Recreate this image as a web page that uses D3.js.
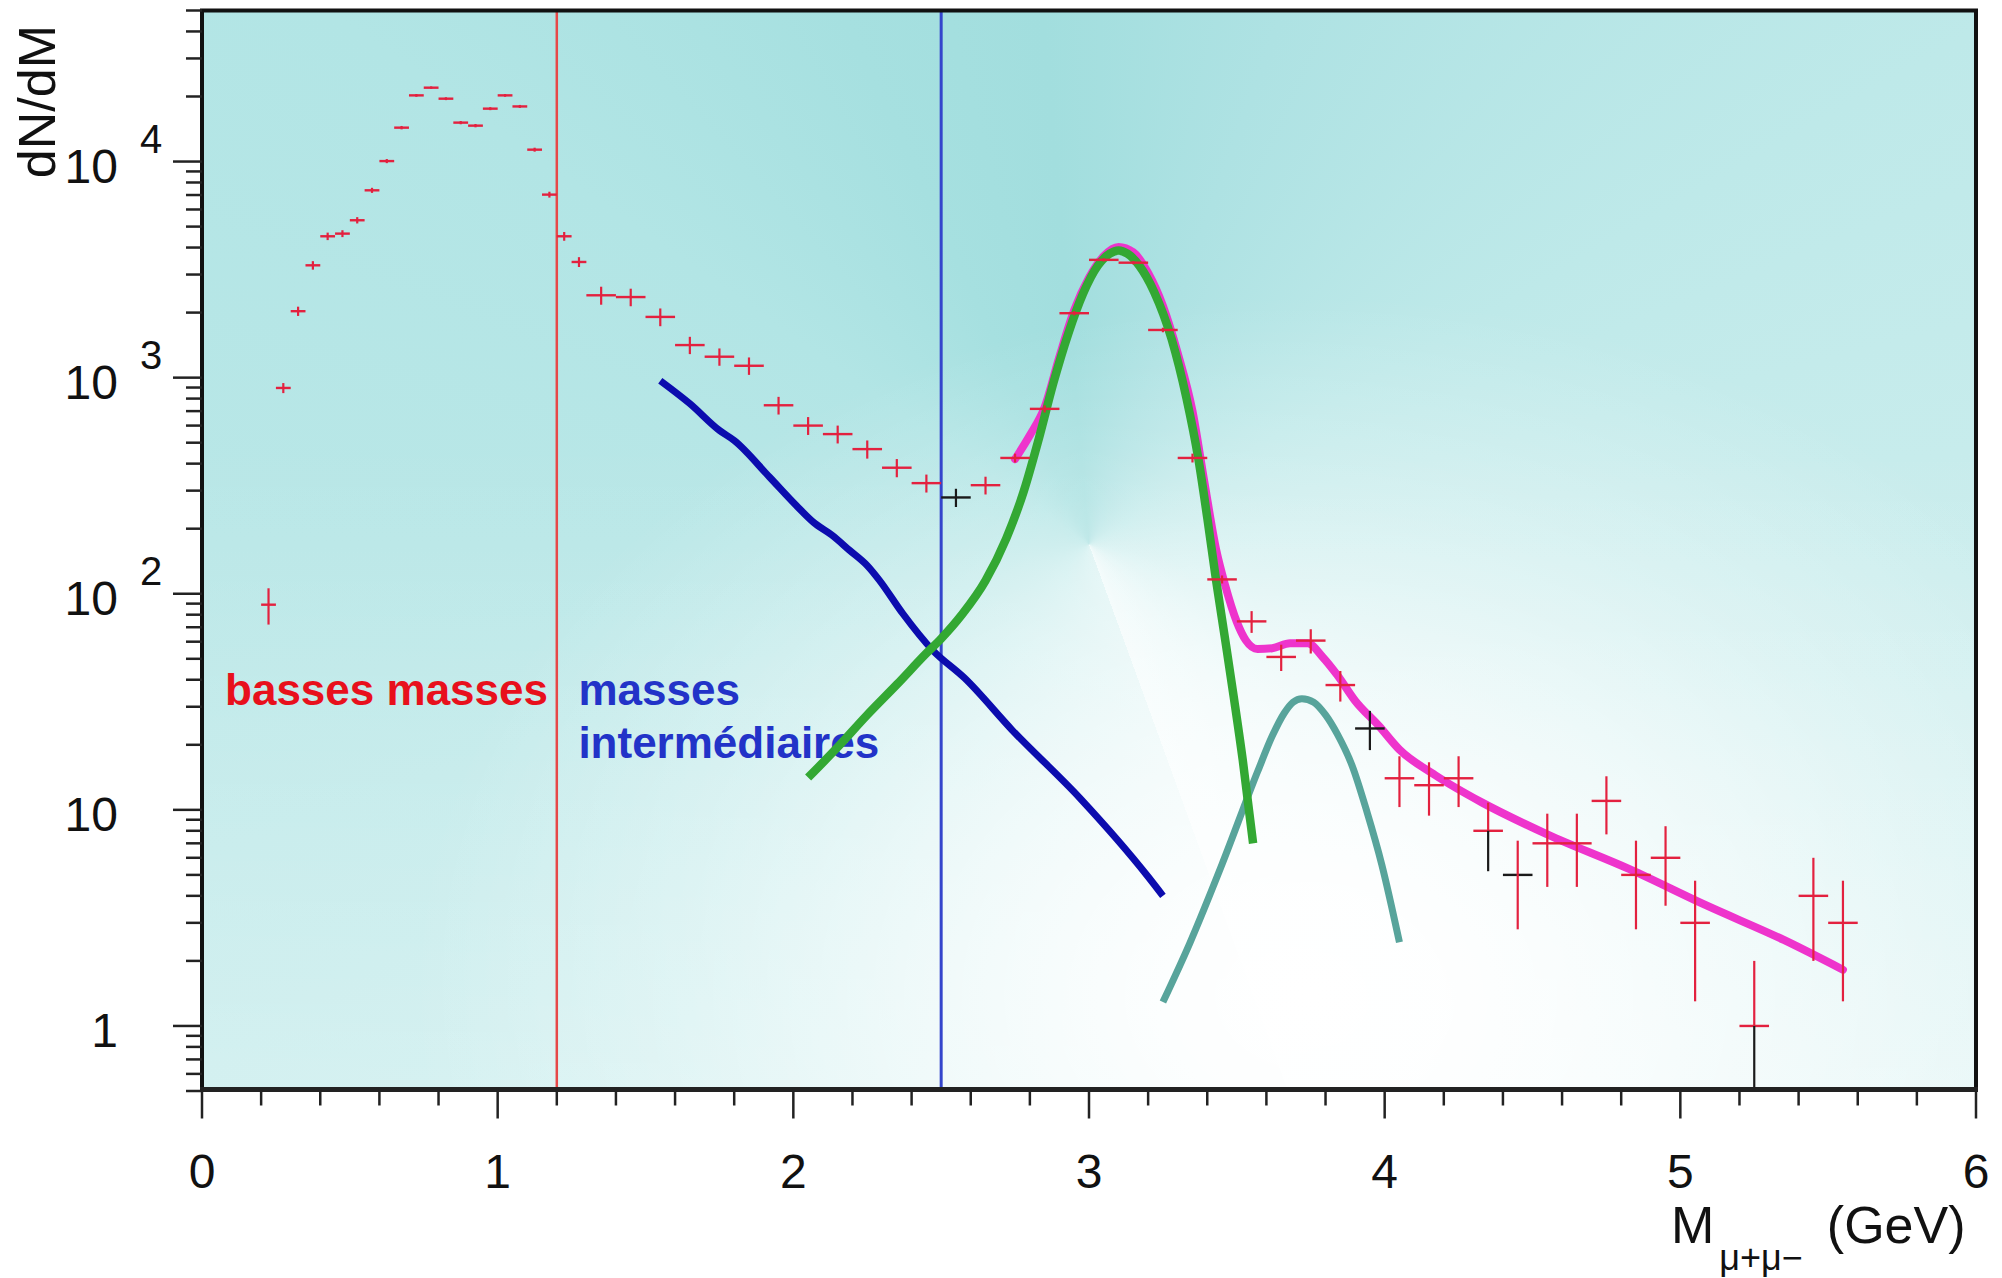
<!DOCTYPE html>
<html>
<head>
<meta charset="utf-8">
<script src="https://cdn.jsdelivr.net/npm/d3@7"></script>
<style>
  html, body { margin: 0; padding: 0; background: #fff; }
  #chart { position: relative; width: 2002px; height: 1278px; overflow: hidden; }
  #chart svg { position: absolute; left: 0; top: 0; }
  #plotbg { position: absolute; }
  text { font-family: "Liberation Sans", Arial, Helvetica, sans-serif; }
</style>
</head>
<body>
<div id="chart"></div>
<script>
// Dimuon invariant-mass spectrum dN/dM with the fitted components.

// Low-mass bins (0.05 GeV wide)
const lowMassCentres = [0.225, 0.275, 0.325, 0.375, 0.425, 0.475, 0.525, 0.575, 0.625, 0.675, 0.725,
                        0.775, 0.825, 0.875, 0.925, 0.975, 1.025, 1.075, 1.125, 1.175, 1.225, 1.275];
const lowMassYield   = [89, 896, 2030, 3310, 4510, 4640, 5350, 7360, 10050, 14350, 20240,
                        21970, 19540, 15140, 14660, 17570, 20240, 17990, 11350, 7030, 4510, 3430];
const lowMassError   = [17, 48, 100, 150, 180, 170, 180, 200, 220, 260, 300,
                        300, 300, 260, 260, 280, 300, 290, 240, 220, 210, 180];

// Wider bins (0.1 GeV wide)
const wideCentres = [1.35, 1.45, 1.55, 1.65, 1.75, 1.85, 1.95, 2.05, 2.15, 2.25, 2.35, 2.45, 2.55, 2.65,
                     2.75, 2.85, 2.95, 3.05, 3.15, 3.25, 3.35, 3.45, 3.55, 3.65, 3.75, 3.85, 3.95,
                     4.05, 4.15, 4.25, 4.35, 4.45, 4.55, 4.65, 4.75, 4.85, 4.95, 5.05, 5.25, 5.45, 5.55];
const wideYield   = [2405, 2360, 1910, 1415, 1250, 1135, 745, 600, 548, 467, 383, 325, 279, 318,
                     425, 717, 1987, 3508, 3404, 1662, 425, 116.5, 74.5, 51, 60.7, 37.8, 23.8,
                     14, 13, 14, 8, 5, 7, 7, 11, 5, 6, 3, 1, 4, 3];
const wideError   = [230, 220, 180, 130, 115, 105, 70, 57, 52, 45, 37, 31, 27, 30,
                     20, 27, 45, 60, 60, 40, 20, 5, 8.6, 7.1, 7.8, 6.1, 4.9,
                     3.7, 3.6, 3.7, 2.8, 2.2, 2.6, 2.6, 3.3, 2.2, 2.4, 1.7, 1, 2, 1.7];

// Points (or parts of them) printed in black ink
const darkInk = new Map([[2.55, "all"], [3.95, "all"], [4.35, "low"], [4.45, "h"], [5.25, "low"]]);

// Intermediate-mass continuum (blue)
const contMass  = [1.55, 1.65, 1.75, 1.80, 1.92, 2.01, 2.07, 2.13, 2.19, 2.25, 2.29, 2.37, 2.47, 2.58, 2.74, 2.97, 3.20, 3.25];
const contYield = [968, 758, 570, 512, 346, 256, 213, 187, 159, 135, 116, 81, 55, 40.6, 23.4, 11.3, 4.9, 4.0];

// J/psi peak (green)
const jpsiMass  = [2.05, 2.15, 2.25, 2.35, 2.45, 2.50, 2.57, 2.65, 2.72, 2.78, 2.83, 2.88, 2.93, 2.98, 3.03,
                   3.07, 3.10, 3.13, 3.17, 3.22, 3.28, 3.33, 3.37, 3.40, 3.43, 3.46, 3.49, 3.52, 3.555];
const jpsiYield = [14.1, 19.5, 27.5, 38, 53, 62, 80, 115, 180, 300, 520, 950, 1600, 2450, 3300,
                   3750, 3880, 3750, 3300, 2500, 1500, 800, 420, 225, 115, 62, 33, 17, 7.0];

// psi' peak (teal)
const psiPMass  = [3.25, 3.34, 3.45, 3.57, 3.62, 3.66, 3.69, 3.72, 3.76, 3.80, 3.84, 3.89, 3.94, 3.99, 4.05];
const psiPYield = [1.29, 2.4, 5.6, 15, 22, 28, 31.5, 32.7, 31.5, 27.5, 22.4, 16, 9.8, 5.6, 2.44];

// Total fit (magenta)
const fitMass  = [2.75, 2.80, 2.85, 2.90, 2.95, 3.00, 3.05, 3.10, 3.15, 3.20, 3.25, 3.30, 3.35, 3.39, 3.43,
                  3.46, 3.50, 3.53, 3.57, 3.62, 3.68, 3.74, 3.79, 3.84, 3.90, 3.98, 4.05, 4.17, 4.33,
                  4.55, 4.83, 5.09, 5.35, 5.55];
const fitYield = [420, 541, 730, 1250, 2050, 2900, 3650, 4020, 3800, 3050, 2150, 1300, 700, 330, 160,
                  110, 74, 61, 55.5, 56, 59, 59, 51, 42, 32, 24.5, 19, 14.5, 10.8,
                  7.7, 5.3, 3.6, 2.5, 1.82];

// Axis ticks
const xMajorTicks = [0, 1, 2, 3, 4, 5, 6];
const yDecades = [1, 10, 100, 1000, 10000];
const yExponents = ["", "", "2", "3", "4"];
const yBaseLabels = ["1", "10", "10", "10", "10"];

// Region boundaries (GeV) and their labels
const regionLimits = [1.2, 2.5];
const lowRegionLabel = "basses masses";
const midRegionLabel = ["masses", "intermédiaires"];

const W = 2002, H = 1278;
const x = d3.scaleLinear().domain([0, 6]).range([202, 1976]);
const y = d3.scaleLog().domain([0.5, 5e4]).range([1091, 10.5]);
const [x0, x1] = x.range();
const yTop = 10.5, yBot = 1089.5;

// ---- shaded plot background ----
const pw = x1 - x0, ph = yBot - yTop;
const cx = x(3.0) - x0, cy = y(170) - yTop;          // centre of the angular shading
const wx = x(3.75) - x0, wy = y(1.4) - yTop;          // brightest spot
d3.select("#chart").append("div").attr("id", "plotbg")
  .style("left", x0 + "px").style("top", yTop + "px")
  .style("width", pw + "px").style("height", ph + "px")
  .style("background", [
    `radial-gradient(ellipse 900px 700px at ${wx}px ${wy}px, rgba(255,255,255,1) 0%, rgba(255,255,255,0.93) 15%, rgba(255,255,255,0.64) 40%, rgba(255,255,255,0.28) 70%, rgba(255,255,255,0) 100%)`,
    `linear-gradient(to bottom, rgba(255,255,255,0) 0%, rgba(255,255,255,0) 40%, rgba(255,255,255,0.3) 100%)`,
    `conic-gradient(from 160deg at ${cx}px ${cy}px, #d6f1f1 0deg, #c6ecec 60deg, #b9e7e7 110deg, #b2e5e5 145deg, #a6e0e0 175deg, #a2dede 195deg, #aee2e3 220deg, #bee9e9 260deg, #cdeeee 300deg, #e4f6f6 340deg, #eefafa 360deg)`
  ].join(","));

const svg = d3.select("#chart").append("svg").attr("width", W).attr("height", H);

// ---- region separators ----
const sepColours = ["#e64848", "#3445cc"];
svg.append("g").selectAll("line").data(regionLimits).join("line")
  .attr("x1", d => x(d)).attr("x2", d => x(d))
  .attr("y1", yTop).attr("y2", yBot + 2)
  .attr("stroke", (d, i) => sepColours[i]).attr("stroke-width", (d, i) => i ? 3 : 2.5);

// ---- region labels ----
const labels = svg.append("g").attr("font-weight", "bold").attr("font-size", 44);
labels.append("text").attr("x", x(0.078)).attr("y", y(30.5)).attr("fill", "#e8101c").text(lowRegionLabel);
labels.append("text").attr("x", x(1.273)).attr("y", y(30.5)).attr("fill", "#2233c8")
  .selectAll("tspan").data(midRegionLabel).join("tspan")
  .attr("x", x(1.273)).attr("dy", (d, i) => i ? 53 : 0).text(d => d);

// ---- curves ----
const line = d3.line().x(d => x(d[0])).y(d => y(d[1])).curve(d3.curveMonotoneX);
const curves = [
  { m: fitMass, v: fitYield, colour: "#ee34cc", width: 8, cap: "round" },
  { m: contMass, v: contYield, colour: "#0c0cae", width: 7, cap: "butt" },
  { m: psiPMass, v: psiPYield, colour: "#58a49b", width: 7, cap: "butt" },
  { m: jpsiMass, v: jpsiYield, colour: "#33a833", width: 8.5, cap: "butt" }
];
svg.append("g").attr("fill", "none").selectAll("path").data(curves).join("path")
  .attr("d", c => line(c.m.map((m, i) => [m, c.v[i]])))
  .attr("stroke", c => c.colour).attr("stroke-width", c => c.width)
  .attr("stroke-linecap", c => c.cap).attr("stroke-linejoin", "round");

// ---- data points with error bars ----
const points = [
  ...lowMassCentres.map((m, i) => ({ m, v: lowMassYield[i], e: lowMassError[i], hw: 0.025 })),
  ...wideCentres.map((m, i) => ({ m, v: wideYield[i], e: wideError[i], hw: 0.05 }))
];
const red = "#e3213f", ink = "#1a1a1a";
const yMin = y.domain()[0];
const pg = svg.append("g").selectAll("g").data(points).join("g");
pg.append("line")
  .attr("x1", d => x(d.m - d.hw)).attr("x2", d => x(d.m + d.hw))
  .attr("y1", d => y(d.v)).attr("y2", d => y(d.v))
  .attr("stroke", d => ["all", "h"].includes(darkInk.get(d.m)) ? ink : red).attr("stroke-width", 2.4);
pg.append("line")
  .attr("x1", d => x(d.m)).attr("x2", d => x(d.m))
  .attr("y1", d => y(d.v)).attr("y2", d => y(d.v + d.e))
  .attr("stroke", d => darkInk.get(d.m) === "all" ? ink : red).attr("stroke-width", 2.2);
pg.append("line")
  .attr("x1", d => x(d.m)).attr("x2", d => x(d.m))
  .attr("y1", d => y(d.v)).attr("y2", d => y(Math.max(d.v - d.e, yMin)))
  .attr("stroke", d => ["all", "low"].includes(darkInk.get(d.m)) ? ink : red).attr("stroke-width", 2.2);

// ---- frame ----
svg.append("rect").attr("x", x0).attr("y", yTop).attr("width", pw).attr("height", ph)
  .attr("fill", "none").attr("stroke", "#111").attr("stroke-width", 4);
svg.append("line").attr("x1", x0 - 2).attr("x2", x1 + 2).attr("y1", yBot).attr("y2", yBot)
  .attr("stroke", "#222").attr("stroke-width", 5);

// ---- x axis ----
const xMinor = d3.range(0, 30.5, 1).map(i => i / 5).filter(t => !xMajorTicks.includes(t));
const axisG = svg.append("g").attr("stroke", "#222").attr("stroke-width", 2.5);
axisG.selectAll(".xmin").data(xMinor).join("line")
  .attr("x1", d => x(d)).attr("x2", d => x(d)).attr("y1", yBot).attr("y2", yBot + 16);
axisG.selectAll(".xmaj").data(xMajorTicks).join("line")
  .attr("x1", d => x(d)).attr("x2", d => x(d)).attr("y1", yBot).attr("y2", yBot + 29);
svg.append("g").attr("font-size", 48).attr("text-anchor", "middle").attr("fill", "#111")
  .selectAll("text").data(xMajorTicks).join("text")
  .attr("x", d => x(d)).attr("y", 1188).text(d => d);

// x title: M_{mu+mu-} (GeV)
const xt = svg.append("text").attr("fill", "#111").attr("font-size", 52).attr("x", 1671).attr("y", 1243);
xt.append("tspan").text("M");
xt.append("tspan").attr("font-size", 36).attr("dx", 5).attr("dy", 27).text("\u03bc+\u03bc\u2212");
xt.append("tspan").attr("dx", 24).attr("dy", -27).text("(GeV)");

// ---- y axis ----
const yMinor = [];
[0.1, 1, 10, 100, 1000, 10000].forEach(dec => {
  for (let k = 2; k <= 9; k++) {
    const t = dec * k;
    if (t >= 0.5 && t <= 5e4) yMinor.push(t);
  }
});
axisG.selectAll(".ymin").data(yMinor).join("line")
  .attr("x1", x0 - 16).attr("x2", x0).attr("y1", d => y(d)).attr("y2", d => y(d));
axisG.selectAll(".ymaj").data(yDecades).join("line")
  .attr("x1", x0 - 29).attr("x2", x0).attr("y1", d => y(d)).attr("y2", d => y(d));

const yl = svg.append("g").attr("fill", "#111");
yl.selectAll(".base").data(yDecades).join("text")
  .attr("x", 118).attr("y", d => y(d) + 21).attr("font-size", 48).attr("text-anchor", "end")
  .text((d, i) => yBaseLabels[i]);
yl.selectAll(".exp").data(yDecades).join("text")
  .attr("x", 140).attr("y", d => y(d) - 9).attr("font-size", 40)
  .text((d, i) => yExponents[i]);

// y title
svg.append("text").attr("transform", "translate(55,25) rotate(-90)")
  .attr("text-anchor", "end").attr("font-size", 52).attr("fill", "#111").text("dN/dM");
</script>
</body>
</html>
